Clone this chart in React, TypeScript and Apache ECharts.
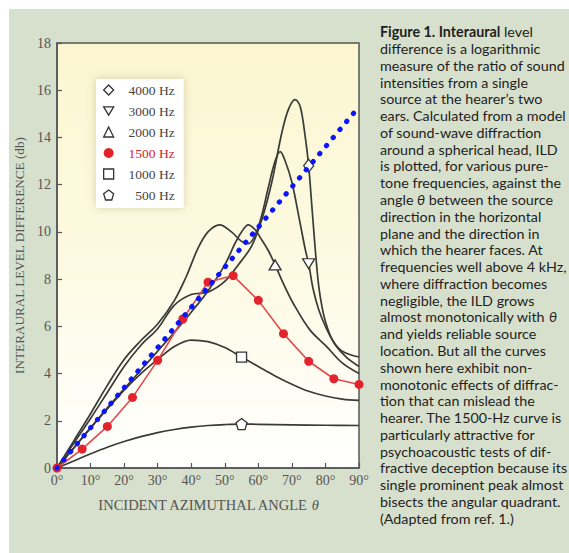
import React, { useEffect, useRef } from 'react';
import * as echarts from 'echarts';

// ---- data ----
const xTicks = [0, 10, 20, 30, 40, 50, 60, 70, 80, 90];
const yTicks = [0, 2, 4, 6, 8, 10, 12, 14, 16, 18];

const hz4000: number[][] = [[0,0],[5,1.05],[10,2.1],[15,3.2],[20,4.3],[25,5.2],[30,5.9],[35,6.9],[40,7.35],[45,7.45],[50,7.9],[54,8.6],[58,9.4],[61,10.5],[64,12.1],[67,14.2],[69,15.2],[71,15.6],[72.5,15.3],[74,14.0],[75,12.8],[76,11.0],[77,9.2],[78,7.7],[79,6.8],[80,6.2],[82,5.45],[85,4.95],[90,4.7]];
const hz3000: number[][] = [[0,0],[5,1.15],[10,2.3],[15,3.5],[20,4.6],[25,5.4],[30,6.1],[35,7.1],[38.5,8.1],[42,9.3],[45,10.0],[48.5,10.3],[52,10.0],[55,9.6],[57,9.5],[59,9.85],[61,10.7],[63,11.9],[65,13.0],[66.5,13.4],[68,13.0],[70,12.1],[72,10.7],[74,9.25],[75,8.65],[76.3,7.6],[78,6.7],[80.3,5.9],[83,5.2],[86.2,4.7],[90,4.3]];
const hz2000: number[][] = [[0,0],[5,0.85],[10,1.7],[15,2.55],[20,3.35],[25,4.15],[30,4.95],[35,5.75],[40,6.6],[45,7.5],[50,8.6],[53,9.5],[55,10.0],[57,10.3],[59,10.1],[60.4,9.8],[63,9.2],[65,8.6],[67.5,7.8],[70.3,7.0],[75.3,5.86],[80.3,5.15],[85,4.45],[90,4.0]];
const hz1000: number[][] = [[0,0],[5,0.85],[10,1.7],[15,2.5],[20,3.3],[25,4.0],[30,4.6],[35,5.15],[40,5.42],[45,5.35],[50,5.1],[55,4.7],[60,4.3],[65,3.9],[70,3.55],[75,3.25],[80,3.05],[85,2.92],[90,2.86]];
const hz500: number[][] = [[0,0],[5,0.3],[10,0.6],[15,0.88],[20,1.12],[25,1.33],[30,1.5],[35,1.63],[40,1.73],[45,1.8],[50,1.84],[55,1.86],[60,1.85],[70,1.83],[80,1.81],[90,1.8]];

const angles1500 = [0, 7.5, 15, 22.5, 30, 37.5, 45, 52.5, 60, 67.5, 75, 82.5, 90];
const ild1500 = [0, 0.8, 1.76, 2.99, 4.56, 6.31, 7.87, 8.15, 7.1, 5.69, 4.52, 3.78, 3.54];

const bisector: number[][] = [[0, 0], [90, 15.3]];

const marker4000 = 75;
const marker3000 = 75;
const marker2000 = 65;
const marker1000 = 55;
const marker500 = 55;

const legendNames = ['4000 Hz', '3000 Hz', '2000 Hz', '1500 Hz', '1000 Hz', '500 Hz'];

const captionLines = [
  '{b|Figure 1. Interaural} level',
  'difference is a logarithmic',
  'measure of the ratio of sound',
  'intensities from a single',
  'source at the hearer\u2019s two',
  'ears. Calculated from a model',
  'of sound-wave diffraction',
  'around a spherical head, ILD',
  'is plotted, for various pure-',
  'tone frequencies, against the',
  'angle {i|\u03b8} between the source',
  'direction in the horizontal',
  'plane and the direction in',
  'which the hearer faces. At',
  'frequencies well above 4 kHz,',
  'where diffraction becomes',
  'negligible, the ILD grows',
  'almost monotonically with {i|\u03b8}',
  'and yields reliable source',
  'location. But all the curves',
  'shown here exhibit non-',
  'monotonic effects of diffrac-',
  'tion that can mislead the',
  'hearer. The 1500-Hz curve is',
  'particularly attractive for',
  'psychoacoustic tests of dif-',
  'fractive deception because its',
  'single prominent peak almost',
  'bisects the angular quadrant.',
  '(Adapted from ref. 1.)',
];

// ---- styling ----
const DOWN_TRI = 'path://M0,0 L12,0 L6,10 Z';
const PENTAGON = 'path://M5,0 L10,3.8 L8.1,10 L1.9,10 L0,3.8 Z';
const SERIF = 'Liberation Serif';
const SANS = 'Lato';
const CAP_SIZE = 14.3;
const AX = '#555555';
const CURVE = '#3a3a36';
const RED = '#e3232b';

const markerStyle = { color: '#ffffff', borderColor: '#333333', borderWidth: 1.3 };

function blackSeries(name: string, pts: number[][], markAt: number, symbol: string, size: number | number[]) {
  return {
    type: 'line',
    name,
    smooth: 0.35,
    symbol: 'none',
    showSymbol: true,
    clip: false,
    lineStyle: { color: CURVE, width: 1.7 },
    itemStyle: markerStyle,
    emphasis: { disabled: true },
    z: 3,
    data: pts.map(([x, y]) =>
      x === markAt ? { value: [x, y], symbol, symbolSize: size } : [x, y]
    ),
  };
}

export default function App() {
  const ref = useRef<HTMLDivElement>(null);

  useEffect(() => {
    const chart = echarts.init(ref.current!, null, { renderer: 'svg' });
    const tickFont = { fontFamily: SERIF, fontSize: 14, color: AX };
    const option: any = {
      animation: false,
      grid: {
        left: 57, top: 43, width: 302, height: 425,
        show: true,
        backgroundColor: new echarts.graphic.LinearGradient(0, 0, 0, 1, [
          { offset: 0, color: '#fbf6d0' },
          { offset: 0.55, color: '#fdfae4' },
          { offset: 1, color: '#ffffff' },
        ]),
        borderColor: AX, borderWidth: 1.5,
      },
      xAxis: {
        type: 'value', min: xTicks[0], max: xTicks[xTicks.length - 1], interval: 10,
        axisLine: { show: true, lineStyle: { color: AX, width: 1.5 } },
        axisTick: { show: true, inside: true, length: 5, lineStyle: { color: AX, width: 1.2 } },
        splitLine: { show: false },
        axisLabel: { ...tickFont, margin: 5, formatter: '{value}\u00b0' },
        name: '{n|INCIDENT AZIMUTHAL ANGLE }{t|\u03b8}',
        nameLocation: 'middle', nameGap: 29,
        nameTextStyle: {
          fontFamily: SERIF, fontSize: 14.5, color: AX,
          rich: {
            n: { fontFamily: SERIF, fontSize: 14.5, color: AX },
            t: { fontFamily: SERIF, fontSize: 14.5, color: AX, fontStyle: 'italic' },
          },
        },
      },
      yAxis: {
        type: 'value', min: yTicks[0], max: yTicks[yTicks.length - 1], interval: 2,
        axisLine: { show: true, lineStyle: { color: AX, width: 1.5 } },
        axisTick: { show: true, inside: true, length: 5, lineStyle: { color: AX, width: 1.2 } },
        splitLine: { show: false },
        axisLabel: { ...tickFont, margin: 6 },
        name: 'INTERAURAL LEVEL DIFFERENCE (db)',
        nameLocation: 'middle', nameGap: 30,
        nameTextStyle: { fontFamily: SERIF, fontSize: 13.2, color: AX },
      },
      legend: {
        left: 96, top: 79, orient: 'vertical',
        padding: [4, 9, 6, 7], itemGap: 7, itemWidth: 10, itemHeight: 10, itemTextGap: 5,
        backgroundColor: '#ffffff',
        shadowBlur: 8, shadowColor: 'rgba(140,130,70,0.35)',
        selectedMode: false,
        data: [
          { name: legendNames[0], icon: 'diamond', itemStyle: markerStyle },
          { name: legendNames[1], icon: DOWN_TRI, itemStyle: markerStyle },
          { name: legendNames[2], icon: 'triangle', itemStyle: markerStyle },
          { name: legendNames[3], icon: 'circle', itemStyle: { color: RED, borderWidth: 0 } },
          { name: legendNames[4], icon: 'rect', itemStyle: markerStyle },
          { name: legendNames[5], icon: PENTAGON, itemStyle: markerStyle },
        ],
        formatter: (name: string) => (name === '1500 Hz' ? `{r|${name}}` : `{a|${name}}`),
        textStyle: {
          fontFamily: SERIF, fontSize: 13.5, lineHeight: 14,
          rich: {
            a: { fontFamily: SERIF, fontSize: 13.5, width: 56, align: 'right', color: '#444' },
            r: { fontFamily: SERIF, fontSize: 13.5, width: 56, align: 'right', color: '#d4262c' },
          },
        },
      },
      series: [
        blackSeries(legendNames[5], hz500, marker500, PENTAGON, 11),
        blackSeries(legendNames[4], hz1000, marker1000, 'rect', 10),
        blackSeries(legendNames[2], hz2000, marker2000, 'triangle', [12, 10]),
        blackSeries(legendNames[1], hz3000, marker3000, DOWN_TRI, [12, 10]),
        blackSeries(legendNames[0], hz4000, marker4000, 'diamond', [10, 13]),
        {
          type: 'line', name: legendNames[3],
          data: angles1500.map((a, i) => [a, ild1500[i]]),
          symbol: 'circle', symbolSize: 9, clip: false,
          lineStyle: { color: '#e04a4c', width: 1.6 },
          itemStyle: { color: RED },
          emphasis: { disabled: true },
          z: 4,
        },
        {
          type: 'line', name: 'bisector', data: bisector, symbol: 'none', clip: false,
          lineStyle: { color: '#0a14ff', width: 5, type: [0.5, 10], cap: 'round' },
          emphasis: { disabled: true },
          z: 6,
        },
      ],
      graphic: captionLines.map((t, i) => ({
        type: 'text',
        x: 380,
        y: 31.7 + i * 16.78,
        silent: true,
        style: {
          text: t,
          fontFamily: SANS,
          fontSize: CAP_SIZE,
          fill: '#1e1e1e',
          verticalAlign: 'middle',
          rich: {
            b: { fontFamily: SANS, fontSize: CAP_SIZE, fontWeight: 'bold', fill: '#1e1e1e' },
            i: { fontFamily: SANS, fontSize: CAP_SIZE, fontStyle: 'italic', fill: '#1e1e1e' },
          },
        },
      })),
    };
    chart.setOption(option);
    return () => chart.dispose();
  }, []);

  return (
    <div style={{ position: 'fixed', left: 0, top: 0, width: 569, height: 553, background: '#ffffff' }}>
      <div style={{ position: 'absolute', left: 9, top: 9, width: 560, height: 544, background: '#d7e0cc' }} />
      <div ref={ref} style={{ position: 'absolute', left: 0, top: 0, width: 569, height: 553 }} />
    </div>
  );
}
